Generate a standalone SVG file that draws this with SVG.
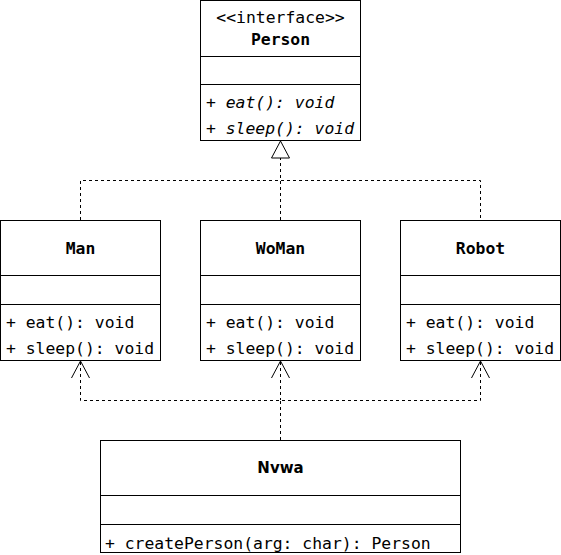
<svg xmlns="http://www.w3.org/2000/svg" width="561" height="555" viewBox="0 0 561 555">
<style>
.box{fill:#fff;stroke:#000;stroke-width:1}
.ln{stroke:#000;stroke-width:1;fill:none}
.dash{stroke:#000;stroke-width:1;fill:none;stroke-dasharray:3,3}
.t{font-family:"DejaVu Sans Mono","Liberation Mono",monospace;font-size:16.4px;fill:#000}
.b{font-weight:bold}
.i{font-style:italic}
.c{text-anchor:middle}
.s{font-family:"DejaVu Sans","Liberation Sans",sans-serif;font-size:15px;font-weight:bold;fill:#000}
</style>
<rect width="561" height="555" fill="#fff"/>
<g id="connectors">
<path class="dash" d="M80.5 220V180.5H480.5V220M280.5 220V158"/>
<polygon points="280.5,141 271.5,158 289.5,158" fill="#fff" stroke="#000"/>
<path class="dash" d="M280.5 440V400.5M80.5 362V400.5H480.5V362M280.5 362V400"/>
<path class="ln" d="M71.5 378L80.5 361L89.5 378M271.5 378L280.5 361L289.5 378M471.5 378L480.5 361L489.5 378"/>
</g>
<g id="Person">
<rect class="box" x="200.5" y="0.5" width="160" height="140"/>
<path class="ln" d="M200.5 56.5H360.5M200.5 84.5H360.5"/>
<text class="t c" x="280.5" y="23">&lt;&lt;interface&gt;&gt;</text>
<text class="t c b" x="280.5" y="45">Person</text>
<text class="t i" x="206" y="108">+ eat(): void</text>
<text class="t i" x="206" y="134">+ sleep(): void</text>
</g>
<g id="Man">
<rect class="box" x="0.5" y="220.5" width="160" height="140"/>
<path class="ln" d="M0.5 275.5H160.5M0.5 304.5H160.5"/>
<text class="t c b" x="80.5" y="254">Man</text>
<text class="t" x="6" y="328">+ eat(): void</text>
<text class="t" x="6" y="354">+ sleep(): void</text>
</g>
<g id="WoMan">
<rect class="box" x="200.5" y="220.5" width="160" height="140"/>
<path class="ln" d="M200.5 275.5H360.5M200.5 304.5H360.5"/>
<text class="t c b" x="280.5" y="254">WoMan</text>
<text class="t" x="206" y="328">+ eat(): void</text>
<text class="t" x="206" y="354">+ sleep(): void</text>
</g>
<g id="Robot">
<rect class="box" x="400.5" y="220.5" width="160" height="140"/>
<path class="ln" d="M400.5 275.5H560.5M400.5 304.5H560.5"/>
<text class="t c b" x="480.5" y="254">Robot</text>
<text class="t" x="406" y="328">+ eat(): void</text>
<text class="t" x="406" y="354">+ sleep(): void</text>
</g>
<g id="Nvwa">
<rect class="box" x="100.5" y="440.5" width="360" height="112"/>
<path class="ln" d="M100.5 495.5H460.5M100.5 524.5H460.5"/>
<text class="s c" x="280.5" y="473">Nvwa</text>
<text class="t" x="105" y="549">+ createPerson(arg: char): Person</text>
</g>
</svg>
